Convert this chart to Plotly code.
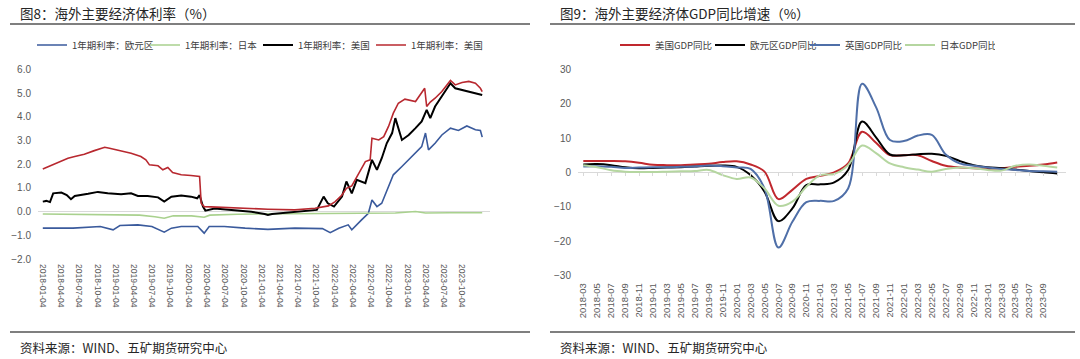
import plotly.graph_objects as go

W, H = 1080, 359
FONT = "Noto Sans CJK SC"

# ---------------- Figure 8 data: 1-year rates ----------------
eu_dates = ["2018-01-04", "2018-06-04", "2018-10-19", "2018-12-22", "2019-01-25", "2019-04-25", "2019-07-04",
            "2019-09-04", "2019-10-10", "2019-11-28", "2020-02-19", "2020-03-22", "2020-04-16", "2020-07-01",
            "2020-10-13", "2021-02-04", "2021-06-19", "2021-11-04", "2021-12-13", "2022-01-25", "2022-03-13",
            "2022-03-31", "2022-05-19", "2022-06-22", "2022-07-10", "2022-08-04", "2022-08-28", "2022-10-01",
            "2022-10-25", "2022-12-07", "2023-01-25", "2023-03-16", "2023-04-04", "2023-04-19", "2023-05-22",
            "2023-06-25", "2023-08-07", "2023-09-16", "2023-10-28", "2023-12-10", "2024-01-04", "2024-01-13"]
eu_rate = [-0.70, -0.70, -0.63, -0.77, -0.59, -0.56, -0.63, -0.87, -0.70, -0.63, -0.63, -0.91, -0.63, -0.63,
           -0.70, -0.75, -0.70, -0.72, -0.89, -0.70, -0.56, -0.77, -0.35, -0.07, 0.49, 0.21, 0.35, 1.05,
           1.55, 1.90, 2.32, 2.74, 3.31, 2.60, 2.88, 3.23, 3.52, 3.42, 3.61, 3.45, 3.42, 3.14]

jp_dates = ["2018-01-04", "2018-06-04", "2018-12-04", "2019-05-04", "2019-07-19", "2019-09-04", "2019-10-19",
            "2020-01-19", "2020-03-22", "2020-04-19", "2020-09-04", "2021-02-04", "2021-07-04", "2022-01-04",
            "2022-07-04", "2022-11-04", "2023-02-13", "2023-04-04", "2023-08-04", "2024-01-13"]
jp_rate = [-0.10, -0.12, -0.14, -0.15, -0.22, -0.28, -0.18, -0.18, -0.24, -0.15, -0.11, -0.10, -0.08, -0.07,
           -0.05, -0.06, 0.00, -0.06, -0.05, -0.05]

us1_dates = ["2018-01-04", "2018-01-22", "2018-02-09", "2018-02-25", "2018-04-07", "2018-05-04", "2018-05-25",
             "2018-06-13", "2018-08-19", "2018-10-07", "2018-11-25", "2019-01-31", "2019-03-22", "2019-04-25",
             "2019-06-13", "2019-08-04", "2019-09-04", "2019-10-10", "2019-11-28", "2020-01-16", "2020-02-16",
             "2020-02-28", "2020-03-16", "2020-03-28", "2020-05-13", "2020-07-01", "2020-09-07", "2020-11-13",
             "2021-01-19", "2021-02-04", "2021-02-25", "2021-06-19", "2021-10-07", "2021-11-10", "2021-12-01",
             "2022-01-01", "2022-02-10", "2022-03-04", "2022-03-31", "2022-04-25", "2022-06-07", "2022-07-10",
             "2022-08-04", "2022-08-28", "2022-09-22", "2022-10-19", "2022-11-04", "2022-12-07", "2023-01-10",
             "2023-02-13", "2023-03-16", "2023-04-10", "2023-04-28", "2023-05-22", "2023-07-04", "2023-08-07",
             "2023-08-31", "2023-10-04", "2023-11-07", "2023-12-10", "2024-01-13"]
us1_rate = [0.42, 0.45, 0.40, 0.77, 0.80, 0.70, 0.52, 0.66, 0.75, 0.83, 0.77, 0.73, 0.77, 0.66,
            0.66, 0.60, 0.42, 0.63, 0.68, 0.63, 0.56, 0.69, 0.21, 0.04, 0.13, 0.10, 0.03, -0.01,
            -0.10, -0.14, -0.10, 0.00, 0.07, 0.63, 0.35, 0.21, 0.63, 1.27, 0.77, 1.34, 1.20, 2.18,
            1.76, 2.25, 2.88, 3.31, 3.94, 3.02, 3.23, 3.52, 3.80, 4.29, 3.94, 4.43, 4.99, 5.41,
            5.20, 5.13, 5.06, 4.99, 4.92]

us2_dates = ["2018-01-04", "2018-03-04", "2018-05-10", "2018-06-13", "2018-07-31", "2018-09-19", "2018-11-10",
             "2018-12-04", "2019-01-31", "2019-03-22", "2019-05-10", "2019-06-04", "2019-06-22", "2019-08-04",
             "2019-08-28", "2019-09-22", "2019-10-16", "2019-11-28", "2020-01-16", "2020-02-28", "2020-03-07",
             "2020-03-22", "2020-04-25", "2020-07-01", "2020-09-04", "2020-12-01", "2021-02-04", "2021-06-19",
             "2021-09-28", "2021-12-04", "2022-01-07", "2022-02-10", "2022-03-04", "2022-03-31", "2022-05-04",
             "2022-06-07", "2022-07-01", "2022-07-10", "2022-08-13", "2022-09-07", "2022-10-01", "2022-10-25",
             "2022-11-19", "2022-12-22", "2023-02-13", "2023-03-31", "2023-04-10", "2023-04-28", "2023-05-22",
             "2023-06-25", "2023-08-07", "2023-08-31", "2023-10-04", "2023-11-07", "2023-12-10", "2024-01-04",
             "2024-01-13"]
us2_rate = [1.80, 2.01, 2.25, 2.32, 2.42, 2.57, 2.71, 2.67, 2.57, 2.46, 2.32, 2.18, 1.97, 1.93,
            1.76, 1.86, 1.65, 1.55, 1.52, 1.48, 0.35, 0.21, 0.20, 0.17, 0.14, 0.11, 0.10, 0.07,
            0.14, 0.24, 0.42, 0.70, 0.98, 1.08, 1.62, 2.11, 2.18, 3.09, 3.02, 3.16, 3.59, 4.15,
            4.57, 4.74, 4.64, 5.20, 4.43, 4.62, 4.78, 5.06, 5.53, 5.34, 5.44, 5.49, 5.41, 5.20,
            5.06]

rate_ticks = ["2018-01-04", "2018-04-04", "2018-07-04", "2018-10-04", "2019-01-04", "2019-04-04", "2019-07-04",
              "2019-10-04", "2020-01-04", "2020-04-04", "2020-07-04", "2020-10-04", "2021-01-04", "2021-04-04",
              "2021-07-04", "2021-10-04", "2022-01-04", "2022-04-04", "2022-07-04", "2022-10-04", "2023-01-04",
              "2023-04-04", "2023-07-04", "2023-10-04"]
rate_yticks = [-2, -1, 0, 1, 2, 3, 4, 5, 6]

# ---------------- Figure 9 data: GDP YoY ----------------
gdp_months = ["2018-03", "2018-05", "2018-07", "2018-09", "2018-11", "2019-01", "2019-03", "2019-05", "2019-07",
              "2019-09", "2019-11", "2020-01", "2020-03", "2020-05", "2020-07", "2020-09", "2020-11", "2021-01",
              "2021-03", "2021-05", "2021-07", "2021-09", "2021-11", "2022-01", "2022-03", "2022-05", "2022-07",
              "2022-09", "2022-11", "2023-01", "2023-03", "2023-05", "2023-07", "2023-09", "2023-11"]
gdp_us = [3.3, 3.3, 3.3, 3.2, 2.8, 2.2, 2.1, 2.1, 2.3, 2.5, 3.0, 3.2, 2.3, 0.2, -7.8, -5.1, -1.9, -1.0,
          0.0, 2.6, 11.8, 8.6, 5.0, 5.0, 5.0, 3.3, 1.9, 1.4, 1.2, 1.0, 1.2, 1.6, 1.9, 2.3, 2.9]
gdp_ez = [2.3, 2.4, 2.1, 1.5, 1.2, 1.3, 1.4, 1.5, 1.7, 1.9, 2.0, 1.6, -0.8, -5.6, -14.2, -10.5, -3.7, -3.5,
          -2.9, 0.7, 14.8, 10.2, 5.2, 5.0, 5.3, 5.4, 4.8, 3.3, 2.1, 1.5, 1.2, 0.8, 0.4, 0.0, -0.3]
gdp_uk = [1.7, 1.8, 1.6, 1.3, 1.4, 1.5, 1.5, 1.6, 1.7, 2.0, 1.8, 1.4, 1.0, -4.7, -21.9, -14.4, -8.7, -8.3,
          -8.3, -4.7, 25.8, 19.0, 9.4, 9.1, 10.7, 10.9, 5.2, 2.6, 1.9, 1.4, 1.0, 0.7, 0.4, 0.3, 0.2]
gdp_jp = [2.1, 1.5, 0.6, 0.2, 0.1, 0.1, 0.2, 0.3, 0.4, 0.7, -0.8, -1.9, -1.5, -4.7, -9.7, -8.5, -4.2, -0.8,
          -0.5, 2.1, 7.8, 5.6, 2.6, 1.5, 0.8, 0.2, 1.0, 1.4, 1.2, 0.7, 0.5, 1.9, 2.3, 1.9, 1.4]
gdp_ticks = gdp_months[:-1]
gdp_yticks = [-30, -20, -10, 0, 10, 20, 30]

# ---------------- layout geometry (pixels -> paper) ----------------
def px_x(p):
    return p / W

def px_y(p):
    return 1 - p / H

L_X = [px_x(38), px_x(490)]
L_Y = [px_y(259), px_y(69.3)]
R_X = [px_x(578), px_x(1066)]
R_Y = [px_y(275.4), px_y(69.3)]
R_RANGE = [-30, 30]

fig = go.Figure()

left_series = [
    ("1年期利率：欧元区", eu_dates, eu_rate, "#3A5A9C", 1.6),
    ("1年期利率：日本", jp_dates, jp_rate, "#A9D18E", 1.6),
    ("1年期利率：美国", us1_dates, us1_rate, "#000000", 2.0),
    ("1年期利率：美国", us2_dates, us2_rate, "#B8282F", 1.6),
]
for name, xs, ys, col, w in left_series:
    fig.add_trace(go.Scatter(x=xs, y=ys, name=name, mode="lines", line=dict(color=col, width=w),
                             xaxis="x", yaxis="y", legend="legend"))

right_series = [
    ("美国GDP同比", gdp_us, "#C0282E"),
    ("欧元区GDP同比", gdp_ez, "#000000"),
    ("英国GDP同比", gdp_uk, "#4F6FA8"),
    ("日本GDP同比", gdp_jp, "#B5D6A0"),
]
for name, ys, col in right_series:
    fig.add_trace(go.Scatter(x=gdp_months, y=ys, name=name, mode="lines",
                             line=dict(color=col, width=2, shape="spline", smoothing=1.0),
                             xaxis="x2", yaxis="y2", legend="legend2"))

# invisible helper trace so the zero-line tick axis exists
fig.add_trace(go.Scatter(x=gdp_months, y=[None] * len(gdp_months), xaxis="x3", yaxis="y2",
                         showlegend=False, hoverinfo="skip"))

tick_font = dict(family="Liberation Sans", size=10, color="#595959")
zero_pos = R_Y[0] + (0 - R_RANGE[0]) / (R_RANGE[1] - R_RANGE[0]) * (R_Y[1] - R_Y[0])

fig.update_layout(
    width=W, height=H,
    margin=dict(l=0, r=0, t=0, b=0, autoexpand=False),
    paper_bgcolor="white", plot_bgcolor="white",
    font=dict(family=FONT, color="#404040"),
    xaxis=dict(domain=L_X, type="date", range=["2017-12-11", "2024-02-21"], anchor="y",
               tickmode="array", tickvals=rate_ticks, ticktext=rate_ticks, tickangle=90,
               tickfont=dict(family="Liberation Sans", size=8.5, color="#595959"),
               showgrid=False, zeroline=False, showline=False, ticks="", ticklabelstandoff=4),
    yaxis=dict(domain=L_Y, range=[-2, 6], anchor="x", tickmode="array", tickvals=rate_yticks,
               tickformat=".1f", tickfont=tick_font, showgrid=False, zeroline=True,
               zerolinecolor="#D9D9D9", zerolinewidth=1, showline=False, ticks="", ticklabelstandoff=6),
    xaxis2=dict(domain=R_X, type="category", range=[-0.38, 34.63], anchor="y2",
                tickmode="array", tickvals=gdp_ticks, ticktext=gdp_ticks, tickangle=-90,
                tickfont=dict(family="Liberation Sans", size=9.5, color="#595959"),
                showgrid=False, zeroline=False, showline=False, ticks="", ticklabelstandoff=5),
    xaxis3=dict(domain=R_X, type="category", range=[-0.38, 34.63], overlaying="x2", anchor="free",
                position=zero_pos, side="bottom", tickmode="array", tickvals=gdp_months,
                showticklabels=False, ticks="outside", ticklen=3, tickcolor="#D9D9D9", tickwidth=1,
                showgrid=False, zeroline=False, showline=False),
    yaxis2=dict(domain=R_Y, range=R_RANGE, anchor="x2", tickmode="array", tickvals=gdp_yticks,
                tickfont=tick_font, showgrid=False, zeroline=True, zerolinecolor="#D9D9D9",
                zerolinewidth=1, showline=False, ticks="", ticklabelstandoff=6),
    legend=dict(orientation="h", x=px_x(258), xanchor="center", y=px_y(45), yanchor="middle",
                font=dict(family=FONT, size=9.5, color="#404040"), bgcolor="rgba(0,0,0,0)",
                itemwidth=30, entrywidth=68, entrywidthmode="pixels", traceorder="normal"),
    legend2=dict(orientation="h", x=px_x(805), xanchor="center", y=px_y(45), yanchor="middle",
                 font=dict(family=FONT, size=9.5, color="#404040"), bgcolor="rgba(0,0,0,0)",
                 itemwidth=30, entrywidth=50, entrywidthmode="pixels", traceorder="normal"),
    showlegend=True,
)

# titles, rules and source notes
decor_line = dict(color="#7F7F7F", width=2)
for x0, x1 in [(10, 530), (550, 1075)]:
    fig.add_shape(type="line", xref="paper", yref="paper", x0=px_x(x0), x1=px_x(x1),
                  y0=px_y(24), y1=px_y(24), line=decor_line)
    fig.add_shape(type="line", xref="paper", yref="paper", x0=px_x(x0), x1=px_x(x1),
                  y0=px_y(332), y1=px_y(332), line=decor_line)

titles = [(18, "图8：海外主要经济体利率（%）"), (558, "图9：海外主要经济体GDP同比增速（%）")]
for x, t in titles:
    fig.add_annotation(text=t, xref="paper", yref="paper", x=px_x(x), y=px_y(13), xanchor="left",
                       yanchor="middle", showarrow=False, font=dict(family=FONT, size=13.5, color="#262626"))
for x in (18, 558):
    fig.add_annotation(text="资料来源：WIND、五矿期货研究中心", xref="paper", yref="paper", x=px_x(x),
                       y=px_y(347), xanchor="left", yanchor="middle", showarrow=False,
                       font=dict(family=FONT, size=12.5, color="#262626"))

fig.write_html("out.html", config={"displayModeBar": False},
               post_script="document.body.style.margin='0';document.body.style.overflow='hidden';")
